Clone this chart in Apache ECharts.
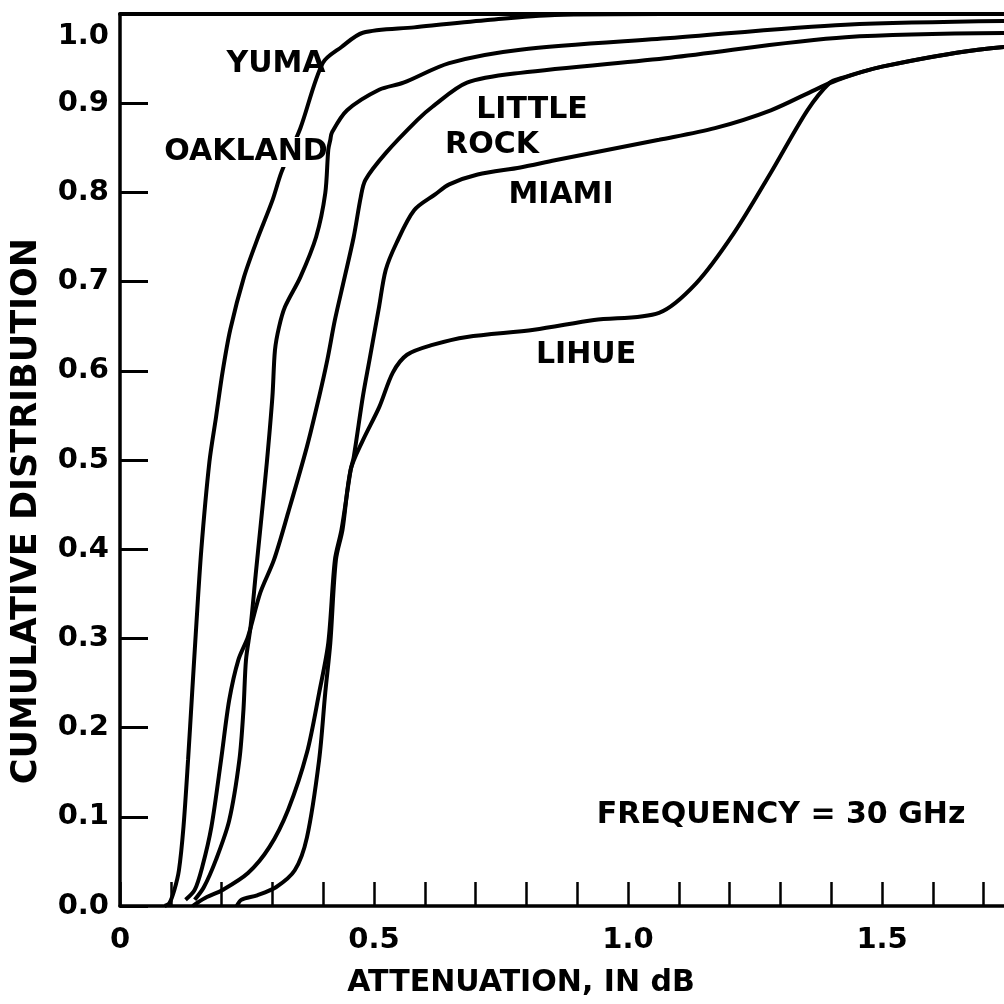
<!DOCTYPE html>
<html><head><meta charset="utf-8">
<script src="https://cdn.jsdelivr.net/npm/echarts@6/dist/echarts.min.js"></script>
<style>html,body{margin:0;padding:0;background:#fff}#c{width:1004px;height:1004px}</style>
</head><body><div id="c"></div>
<script>
// ---- Data (attenuation in dB, cumulative distribution) ----
const yumaX = [0.088,0.097,0.107,0.116,0.125,0.134,0.142,0.149,0.160,0.176,0.189,0.202,0.217,0.244,0.270,0.300,0.318,0.355,0.399,0.436,0.478,0.579,0.719,0.856,1.068,1.90];
const yumaY = [0.000,0.003,0.018,0.040,0.089,0.164,0.239,0.304,0.399,0.498,0.548,0.599,0.646,0.705,0.747,0.791,0.823,0.872,0.945,0.963,0.979,0.985,0.993,0.999,1.000,1.000];

const oaklandX = [0.147,0.165,0.189,0.215,0.235,0.243,0.248,0.257,0.267,0.276,0.289,0.300,0.305,0.313,0.325,0.355,0.386,0.404,0.410,0.414,0.417,0.447,0.510,0.558,0.648,0.788,1.083,1.428,1.903];
const oaklandY = [0.007,0.021,0.052,0.096,0.164,0.220,0.276,0.313,0.371,0.422,0.497,0.571,0.623,0.649,0.672,0.705,0.750,0.799,0.848,0.859,0.867,0.892,0.915,0.923,0.945,0.960,0.973,0.988,0.993];

const littleRockX = [0.129,0.147,0.162,0.180,0.199,0.215,0.233,0.252,0.276,0.303,0.331,0.368,0.392,0.408,0.423,0.441,0.460,0.474,0.483,0.523,0.585,0.615,0.683,0.788,1.083,1.428,1.903];
const littleRockY = [0.007,0.018,0.044,0.089,0.164,0.231,0.276,0.302,0.351,0.388,0.441,0.515,0.571,0.612,0.657,0.702,0.750,0.795,0.814,0.844,0.881,0.896,0.923,0.934,0.951,0.974,0.979];

const miamiX = [0.143,0.153,0.171,0.202,0.252,0.294,0.331,0.368,0.392,0.410,0.423,0.436,0.454,0.460,0.478,0.491,0.510,0.523,0.544,0.579,0.621,0.648,0.704,0.788,0.856,1.061,1.171,1.281,1.368,1.412,1.500,1.689,1.830,1.903];
const miamiY = [0.000,0.004,0.010,0.018,0.037,0.066,0.108,0.172,0.239,0.295,0.388,0.422,0.489,0.503,0.571,0.612,0.672,0.713,0.743,0.780,0.798,0.809,0.820,0.828,0.836,0.859,0.872,0.892,0.915,0.926,0.941,0.960,0.965,0.965];

const lihueX = [0.230,0.239,0.270,0.307,0.344,0.368,0.392,0.404,0.414,0.425,0.438,0.454,0.478,0.510,0.537,0.565,0.615,0.683,0.815,0.933,1.061,1.134,1.208,1.281,1.353,1.397,1.419,1.500,1.689,1.830,1.903];
const lihueY = [0.000,0.007,0.012,0.021,0.040,0.077,0.164,0.239,0.295,0.388,0.422,0.489,0.522,0.559,0.598,0.618,0.629,0.638,0.646,0.657,0.665,0.698,0.754,0.822,0.892,0.923,0.928,0.941,0.960,0.965,0.965];

const seriesNames = ['YUMA','OAKLAND','LITTLE ROCK','MIAMI','LIHUE'];
const seriesXs = [yumaX, oaklandX, littleRockX, miamiX, lihueX];
const seriesYs = [yumaY, oaklandY, littleRockY, miamiY, lihueY];

const xLabelValues = [0, 0.5, 1.0, 1.5];
const xLabelTexts = ['0', '0.5', '1.0', '1.5'];

const curveLabels = ['YUMA','OAKLAND','LITTLE','ROCK','MIAMI','LIHUE'];
const noteText = 'FREQUENCY = 30 GHz';
const xTitle = 'ATTENUATION, IN dB';
const yTitle = 'CUMULATIVE DISTRIBUTION';

// ---- Chart ----
const FONT = '"DejaVu Sans", "Liberation Sans", sans-serif';
const chart = echarts.init(document.getElementById('c'), null, {renderer: 'canvas'});

function xFmt(v) {
  for (let i = 0; i < xLabelValues.length; i++) {
    if (Math.abs(v - xLabelValues[i]) < 1e-6) return xLabelTexts[i];
  }
  return '';
}

const labelPos = [[276,64],[246,152],[532,110],[492,145],[561,195],[586,355]];
const graphics = [
  // white knock-out behind the OAKLAND label where the YUMA curve passes under it
  {type: 'rect', shape: {x: 262, y: 137, width: 54, height: 30}, style: {fill: '#fff'}, z: 99}
];
curveLabels.forEach((t, i) => graphics.push({
  type: 'text', x: labelPos[i][0], y: labelPos[i][1], z: 100,
  style: {text: t, font: 'bold 30px ' + FONT, fill: '#000', align: 'center', verticalAlign: 'middle'}
}));
graphics.push({type: 'text', x: 781, y: 815, z: 100,
  style: {text: noteText, font: 'bold 30px ' + FONT, fill: '#000', align: 'center', verticalAlign: 'middle'}});
graphics.push({type: 'text', x: 521, y: 983, z: 100,
  style: {text: xTitle, font: 'bold 30px ' + FONT, fill: '#000', align: 'center', verticalAlign: 'middle'}});
graphics.push({type: 'text', x: 27, y: 511, z: 100, rotation: Math.PI / 2,
  style: {text: yTitle, font: 'bold 35px ' + FONT, fill: '#000', align: 'center', verticalAlign: 'middle'}});

const option = {
  backgroundColor: '#fff',
  animation: false,
  grid: {left: 120, right: 0, top: 14, bottom: 98, containLabel: false, outerBoundsMode: 'none'},
  xAxis: [{
    type: 'value', min: 0, max: 1.74, interval: 0.1, position: 'bottom',
    axisLine: {show: true, onZero: false, lineStyle: {color: '#000', width: 3.5}},
    axisTick: {show: true, inside: true, length: 24, lineStyle: {color: '#000', width: 2.5}},
    axisLabel: {show: true, formatter: xFmt, margin: 20, color: '#000', fontSize: 29, fontWeight: 'bold', fontFamily: FONT, showMaxLabel: false},
    splitLine: {show: false}
  }, {
    type: 'value', min: 0, max: 1.74, position: 'top',
    axisLine: {show: true, onZero: false, lineStyle: {color: '#000', width: 4}},
    axisTick: {show: false}, axisLabel: {show: false}, splitLine: {show: false}
  }],
  yAxis: {
    type: 'value', min: 0, max: 1, interval: 0.1,
    axisLine: {show: true, onZero: false, lineStyle: {color: '#000', width: 3.5}},
    axisTick: {show: true, inside: true, length: 28, lineStyle: {color: '#000', width: 3}},
    axisLabel: {show: true, margin: 11, color: '#000', fontSize: 29, fontWeight: 'bold', fontFamily: FONT,
      formatter: v => Math.abs(v - 1) < 1e-6 ? '{t|1.0}' : v.toFixed(1),
      rich: {t: {fontSize: 29, fontWeight: 'bold', fontFamily: FONT, color: '#000', padding: [44, 0, 0, 0]}}},
    splitLine: {show: false}
  },
  graphic: graphics,
  series: seriesNames.map((n, i) => ({
    name: n, type: 'line', xAxisIndex: 0,
    data: seriesXs[i].map((x, j) => [x, seriesYs[i][j]]),
    showSymbol: false, symbol: 'none', smooth: 0.3,
    lineStyle: {color: '#000', width: 4}, z: 5
  }))
};
chart.setOption(option);
</script></body></html>
